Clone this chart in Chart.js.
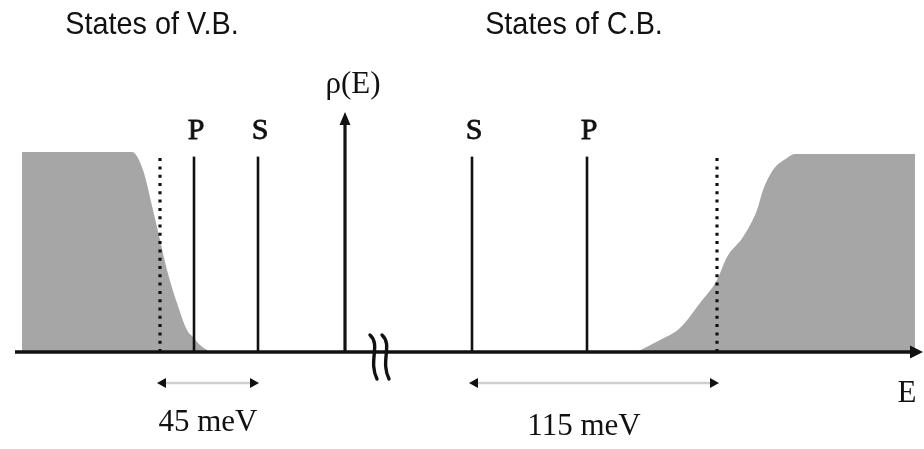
<!DOCTYPE html>
<html>
<head>
<meta charset="utf-8">
<script src="https://cdn.jsdelivr.net/npm/chart.js@4"></script>
<style>
  html, body { margin: 0; padding: 0; background: #fff; }
  #wrap { width: 924px; height: 449px; }
</style>
</head>
<body>
<div id="wrap"><canvas id="dos" width="924" height="449"></canvas></div>
<script>
// energy axis in arbitrary units, density of states normalised to 1

// valence band tail (left grey area)
const vbE   = [22, 22, 132, 143, 153, 160, 167, 177, 187, 193, 200, 210];
const vbDos = [0, 1.0, 1.0, 0.91, 0.71, 0.56, 0.41, 0.245, 0.11, 0.075, 0.035, 0];

// conduction band tail (right grey area)
const cbE   = [637, 660, 680, 700, 717, 727, 743, 757, 763, 773, 787, 795, 915, 915];
const cbDos = [0, 0.06, 0.12, 0.245, 0.36, 0.475, 0.575, 0.71, 0.81, 0.91, 0.97, 0.99, 0.99, 0];

// impurity levels
const levelNames = ['P', 'S', 'S', 'P'];
const levelE     = [194, 258, 472, 587];
const levelTop   = 0.977;

// band edges (dotted)
const edgeE   = [160, 717];
const edgeTop = 0.99;

// energy gaps
const gapNames = ['45 meV', '115 meV'];
const gapFrom  = [157, 469];
const gapTo    = [259, 719];
const gapDos   = -0.155;

const bandTitles = ['States of V.B.', 'States of C.B.'];
const bandTitleE = [152, 574];

const axisStart = 15, axisEnd = 923, rhoE = 345, rhoTop = 1.2, breakE = 380;

const black = '#111';
const grey = '#a6a6a6';

function seg(x0, y0, x1, y1) { return [{ x: x0, y: y0 }, { x: x1, y: y1 }]; }

// grey areas go to the back (higher order = drawn first)
const datasets = [
  {
    data: vbE.map((e, i) => ({ x: e, y: vbDos[i] })), order: 10,
    borderWidth: 0, borderColor: grey, backgroundColor: grey,
    fill: 'origin', cubicInterpolationMode: 'monotone', pointRadius: 0
  },
  {
    data: cbE.map((e, i) => ({ x: e, y: cbDos[i] })), order: 10,
    borderWidth: 0, borderColor: grey, backgroundColor: grey,
    fill: 'origin', cubicInterpolationMode: 'monotone', pointRadius: 0
  }
];

edgeE.forEach(e => datasets.push({
  data: seg(e, 0, e, edgeTop), borderColor: black, borderWidth: 3.2,
  borderDash: [3, 5.3], pointRadius: 0, fill: false, order: 1
}));

levelE.forEach(e => datasets.push({
  data: seg(e, 0, e, levelTop), borderColor: black, borderWidth: 2.6,
  pointRadius: 0, fill: false, order: 1
}));

gapFrom.forEach((e, i) => datasets.push({
  data: seg(e + 5, gapDos, gapTo[i] - 5, gapDos), borderColor: '#cfcfcf', borderWidth: 2.5,
  pointRadius: 0, fill: false, order: 1
}));

// axes
datasets.push({
  data: seg(axisStart, 0, axisEnd - 8, 0), borderColor: black, borderWidth: 3.6,
  pointRadius: 0, fill: false, order: 0
});
datasets.push({
  data: seg(rhoE, 0, rhoE, rhoTop - 0.04), borderColor: black, borderWidth: 3.2,
  pointRadius: 0, fill: false, order: 0
});

const decorations = {
  id: 'decorations',
  afterDatasetsDraw(chart) {
    const { ctx, scales: { x, y } } = chart;
    const px = v => x.getPixelForValue(v);
    const py = v => y.getPixelForValue(v);

    function tri(ax, ay, bx, by, cx, cy) {
      ctx.beginPath();
      ctx.moveTo(ax, ay); ctx.lineTo(bx, by); ctx.lineTo(cx, cy);
      ctx.closePath(); ctx.fill();
    }

    ctx.save();
    ctx.fillStyle = black;
    // arrow heads of the axes
    const y0 = py(0);
    tri(px(axisEnd), y0, px(axisEnd) - 13, y0 - 6.5, px(axisEnd) - 13, y0 + 6.5);
    const ty = py(rhoTop);
    tri(px(rhoE), ty, px(rhoE) - 5.5, ty + 13, px(rhoE) + 5.5, ty + 13);

    // gap arrow heads
    gapFrom.forEach((e, i) => {
      const gy = py(gapDos);
      const a = px(e), b = px(gapTo[i]);
      tri(a, gy, a + 9, gy - 5, a + 9, gy + 5);
      tri(b, gy, b - 9, gy - 5, b - 9, gy + 5);
    });

    // axis break (two wavy strokes)
    ctx.strokeStyle = black;
    ctx.lineWidth = 3.4;
    ctx.lineCap = 'round';
    [-6, 6].forEach(d => {
      const bx = px(breakE) + d;
      ctx.beginPath();
      ctx.moveTo(bx - 4, y0 - 17);
      ctx.bezierCurveTo(bx + 7, y0 - 7, bx - 6, y0 + 9, bx + 3, y0 + 27);
      ctx.stroke();
    });

    // text
    ctx.textAlign = 'center';
    ctx.textBaseline = 'middle';
    ctx.font = '30px "Liberation Serif", "DejaVu Serif", serif';
    ctx.lineWidth = 0.8;
    ctx.lineCap = 'butt';
    levelNames.forEach((n, i) => {
      ctx.fillText(n, px(levelE[i]) + 2, py(1.105));
      ctx.strokeText(n, px(levelE[i]) + 2, py(1.105));
    });
    ctx.font = '31px "Liberation Serif", "DejaVu Serif", serif';
    ctx.fillText('ρ(E)', px(rhoE) + 8, py(1.335));
    ctx.fillText('E', px(907), py(-0.21));

    ctx.fillText(gapNames[0], px(208), py(-0.355));
    ctx.fillText(gapNames[1], px(584), py(-0.375));

    ctx.font = '30px "Liberation Sans", Arial, sans-serif';
    bandTitles.forEach((t, i) => {
      ctx.save();
      ctx.translate(px(bandTitleE[i]), py(1.635));
      ctx.scale(0.96, 1.05);
      ctx.fillText(t, 0, 0);
      ctx.restore();
    });
    ctx.restore();
  }
};

new Chart(document.getElementById('dos'), {
  type: 'scatter',
  data: { datasets },
  options: {
    responsive: false,
    animation: false,
    showLine: true,
    layout: { padding: 0 },
    plugins: { legend: { display: false }, tooltip: { enabled: false } },
    elements: { line: { tension: 0 } },
    scales: {
      x: { type: 'linear', min: 0, max: 924, display: false },
      y: { type: 'linear', min: -0.485, max: 1.76, display: false }
    }
  },
  plugins: [decorations]
});
</script>
</body>
</html>
